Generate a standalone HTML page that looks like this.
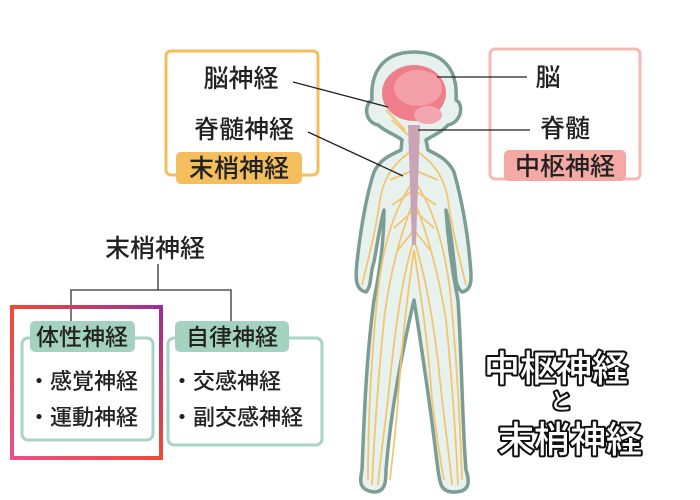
<!DOCTYPE html>
<html><head><meta charset="utf-8"><style>
body{margin:0;background:#fff;width:700px;height:500px;overflow:hidden}
svg{display:block}
text{font-family:"Liberation Sans","Noto Sans CJK JP",sans-serif;font-weight:500}
</style></head><body>
<svg width="700" height="500" viewBox="0 0 700 500" xmlns="http://www.w3.org/2000/svg">
<defs>
<linearGradient id="g" x1="0" y1="1" x2="1" y2="0">
<stop offset="0" stop-color="#ec4f8a"/><stop offset="0.5" stop-color="#ef4a35"/><stop offset="1" stop-color="#9b2f95"/>
</linearGradient>
</defs>
<rect x="166" y="51" width="152" height="124" rx="5" fill="#fff" stroke="#f3bf5d" stroke-width="3"/>
<rect x="176" y="152" width="126" height="32" rx="5" fill="#f4be5c"/>
<text x="239" y="177" font-size="25" text-anchor="middle" fill="#222">末梢神経</text>
<text x="241" y="87" font-size="25" text-anchor="middle" fill="#222">脳神経</text>
<text x="244" y="138" font-size="25" text-anchor="middle" fill="#222">脊髄神経</text>
<rect x="490" y="49" width="150" height="130" rx="5" fill="#fff" stroke="#f4b9b5" stroke-width="3"/>
<rect x="504" y="150" width="122" height="31" rx="5" fill="#f4a9a5"/>
<text x="565" y="175" font-size="25" text-anchor="middle" fill="#222">中枢神経</text>
<text x="548" y="86" font-size="25" text-anchor="middle" fill="#222">脳</text>
<text x="565" y="137" font-size="25" text-anchor="middle" fill="#222">脊髄</text>
<path d="M414 52 C385 52 370 70 372 100 C364 104 364 122 378 125 C386 132 398 136 402 140 L401 150 C388 156 380 160 374 172 C365 200 360 235 357 262 C355 280 356 290 366 292 C372 286 370 272 374 262 C378 240 380 225 384 210 C384 240 380 270 374 300 C366 360 364 420 362 470 C360 480 358 490 374 492 C386 492 386 480 386 470 C390 420 400 360 414 300 C422 350 432 420 438 470 C440 482 440 492 454 492 C470 492 470 482 466 470 C462 420 462 360 458 300 C452 270 448 240 446 210 C450 225 452 245 454 262 C456 272 454 286 462 292 C472 290 472 280 470 262 C468 235 462 200 454 172 C448 160 440 156 428 150 L426 140 C432 136 442 132 448 125 C462 122 464 104 456 100 C458 70 444 52 414 52 Z" fill="#e7f1ed" stroke="#7c9d94" stroke-width="3.5" stroke-linejoin="round"/>
<g stroke="#f2c46a" stroke-width="1.8" fill="none" opacity="0.95">
<path d="M414 180 C400 200 385 230 378 290 C372 350 368 420 368 480"/>
<path d="M414 200 C402 230 390 270 384 320 C378 380 374 440 372 485"/>
<path d="M414 240 C404 270 396 320 390 380 C386 420 380 460 378 485"/>
<path d="M414 250 C408 290 402 340 398 400 C396 430 392 460 390 480"/>
<path d="M414 180 C428 200 442 230 450 290 C456 350 460 420 462 480"/>
<path d="M414 200 C426 230 438 270 446 320 C452 380 456 440 458 485"/>
<path d="M414 240 C424 270 434 320 440 380 C444 420 450 460 452 485"/>
<path d="M414 250 C420 290 428 340 432 400 C436 430 440 460 444 480"/>
<path d="M412 150 C400 160 385 170 380 200 C376 230 368 260 362 285"/>
<path d="M416 150 C428 160 443 170 448 200 C452 230 460 260 466 285"/>
<path d="M414 170 L390 180 M414 190 L392 205 M414 210 L394 228 M414 230 L398 250 M414 170 L438 180 M414 190 L436 205 M414 210 L434 228 M414 230 L430 250"/>
<path d="M405 130 L386 110 M408 135 L392 120"/>
</g>
<path d="M408 125 L420 125 L416 245 L412 245 Z" fill="#c9a4b7"/>
<ellipse cx="414" cy="93" rx="32" ry="28" fill="#ee7f8a"/>
<ellipse cx="418" cy="88" rx="24" ry="18" fill="#f3a0a8"/>
<ellipse cx="428" cy="115" rx="14" ry="9" fill="#f2a7b0"/>
<g stroke="#222" stroke-width="1.3">
<line x1="293" y1="82" x2="388" y2="107"/>
<line x1="308" y1="132" x2="403" y2="176"/>
<line x1="437" y1="77" x2="527" y2="77"/>
<line x1="418" y1="130" x2="530" y2="130"/>
</g>
<text x="155" y="257" font-size="25" text-anchor="middle" fill="#222">末梢神経</text>
<g stroke="#333" stroke-width="1.3" fill="none">
<path d="M158 264 V290 M71 322 V290 H231 V322"/>
</g>
<rect x="22" y="338" width="131" height="102" rx="6" fill="#fff" stroke="#a9d3c4" stroke-width="3"/>
<rect x="168" y="338" width="154" height="107" rx="6" fill="#fff" stroke="#a9d3c4" stroke-width="3"/>
<rect x="30" y="321" width="105" height="31" rx="5" fill="#a3d2c1"/>
<rect x="175" y="321" width="114" height="31" rx="5" fill="#a3d2c1"/>
<text x="82" y="345" font-size="23" text-anchor="middle" fill="#222">体性神経</text>
<text x="232" y="345" font-size="23" text-anchor="middle" fill="#222">自律神経</text>
<text x="28" y="389" font-size="22" fill="#222">・感覚神経</text>
<text x="28" y="425" font-size="22" fill="#222">・運動神経</text>
<text x="171" y="389" font-size="22" fill="#222">・交感神経</text>
<text x="171" y="425" font-size="22" fill="#222">・副交感神経</text>
<rect x="12" y="307" width="149" height="151" fill="none" stroke="url(#g)" stroke-width="4"/>
<g font-size="36" font-weight="500" fill="#fff" stroke="#111" stroke-width="4" paint-order="stroke" stroke-linejoin="round">
<text x="484" y="381">中枢神経</text>
<text x="550" y="409" font-size="22">と</text>
<text x="498" y="452">末梢神経</text>
</g>
</svg>
</body></html>
